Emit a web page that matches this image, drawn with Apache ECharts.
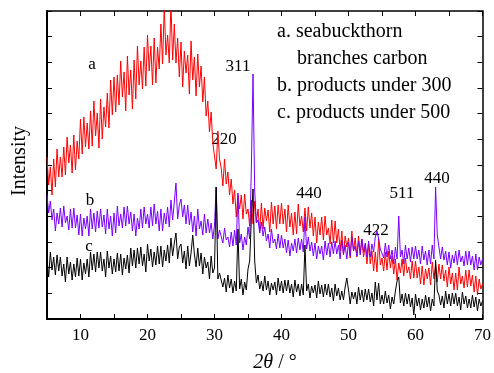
<!DOCTYPE html>
<html>
<head>
<meta charset="utf-8">
<script src="https://cdn.jsdelivr.net/npm/echarts@6/dist/echarts.min.js"></script>
<style>
  html, body { margin: 0; padding: 0; background: #fff; }
  #chart { width: 494px; height: 373px; }
</style>
</head>
<body>
<div id="chart"></div>
<script>
// XRD patterns, 2θ from 5° to 70° in 0.25° steps (4 values per degree, one group per degree)
const twoTheta = Array.from({ length: 261 }, (_, i) => 5 + i * 0.25)

// a. seabuckthorn branches carbon (red)
const seriesA = [
  162, 134, 152, 124,  160, 132, 170, 142,  162, 142, 172, 144,  182, 156, 174, 146,  // 5-8
  184, 149, 178, 160,  200, 165, 202, 172,  196, 170, 208, 173,  218, 183, 206, 171,  // 9-12
  220, 180, 212, 192,  226, 191, 239, 204,  242, 207, 244, 214,  258, 222, 247, 208,  // 13-16
  263, 224, 249, 210,  259, 220, 273, 234,  258, 230, 272, 233,  284, 248, 273, 234,  // 17-20
  281, 236, 272, 250,  295, 255, 312, 264,  284, 256, 315, 259,  295, 256, 281, 242,  // 21-24
  277, 232, 268, 246,  264, 225, 278, 239,  262, 223, 265, 232,  253, 217, 242, 203,  // 25-28
  218, 187, 207, 176,  178, 150, 188, 160,  151, 133, 160, 135,  147, 124, 140, 115,  // 29-32
  129, 102, 124, 110,  124, 100, 125, 105,  110,  93, 119,  95,  118,  96, 110,  88,  // 33-36
  116,  90, 111,  98,  109,  87, 117,  95,  113,  90, 114,  95,  116,  95, 110,  87,  // 37-40
  114,  92, 106,  84,  107,  85, 115,  93,  103,  87, 111,  88,  112,  91, 106,  83,  // 41-44
  102,  76,  97,  84,  102,  79, 103,  84,   91,  75,  99,  76,   98,  76,  90,  68,  // 45-48
   88,  64,  83,  72,   81,  61,  88,  68,   81,  62,  83,  66,   80,  62,  74,  55,  // 49-52
   75,  55,  68,  48,   67,  47,  80,  54,   61,  48,  67,  49,   68,  51,  63,  45,  // 53-56
   60,  39,  56,  46,   60,  43,  61,  46,   52,  40,  58,  41,   58,  41,  52,  35,  // 57-60
   53,  34,  50,  40,   51,  34,  57,  40,   54,  37,  55,  40,   54,  38,  49,  32,  // 61-64
   52,  35,  46,  29,   46,  29,  52,  35,   43,  31,  49,  32,   49,  33,  44,  27,  // 65-68
   43,  24,  40,  30,   35                                                           // 69-70
]

// b. products under 300 (purple)
const seriesB = [
  124, 106, 118,  99,  110,  88, 106,  95,  111,  92, 113,  96,  103,  89, 110,  91,  // 5-8
  111,  91, 104,  84,  105,  83, 101,  90,  103,  83, 110,  90,  106,  87, 108,  91,  // 9-12
  110,  92, 104,  85,  110,  90, 103,  83,  106,  86, 113,  93,  105,  91, 112,  93,  // 13-16
  113,  95, 107,  88,  105,  83, 101,  90,  110,  91, 112,  95,  105,  91, 112,  93,  // 17-20
  115,  95, 108,  88,  110,  88, 106,  95,  112,  92, 119,  99,  117, 136, 100, 114,  // 21-24
  120, 102, 114,  95,  114,  94, 107,  87,  103,  83, 110,  90,   98,  84, 105,  86,  // 25-28
  100,  86,  96,  80,   94, 132,  80,  89,   90,  76,  91,  79,   82,  72,  87,  73,  // 29-32
   89,  74, 126,  76,   85,  69,  82,  74,   92,  80, 150, 245,  128,  96,  99,  86,  // 33-36
   97,  83,  92,  78,   85,  71,  90,  76,   80,  70,  85,  71,   84,  71,  80,  66,  // 37-40
   79,  63,  76,  68,   80,  66,  81,  69,   80,  67, 102,  70,   82,  68,  77,  63,  // 41-44
   76,  60,  73,  65,   73,  59,  78,  64,   76,  62,  77,  65,   78,  65,  74,  60,  // 45-48
   79,  65,  74,  60,   77,  63,  82,  68,   73,  63,  78,  64,   80,  67,  76,  62,  // 49-52
   78,  62,  75,  67,   82,  88,  80,  70,   71,  61,  76,  62,   74,  60,  69,  55,  // 53-56
   72,  60, 103,  62,   69,  55,  74,  60,   71,  57,  72,  60,   73,  60,  69,  55,  // 57-60
   73,  59,  68,  54,   69,  55,  74,  60,  132,  84,  72,  60,   72,  59,  68,  54,  // 61-64
   67,  51,  64,  56,   68,  54,  69,  57,   63,  53,  68,  54,   68,  54,  63,  49,  // 65-68
   65,  49,  62,  54,   60                                                           // 69-70
]

// c. products under 500 (black)
const seriesC = [
   60,  42,  67,  49,   62,  44,  64,  48,   62,  43,  55,  37,   62,  45,  57,  39,  // 5-8
   55,  42,  61,  43,   60,  39,  56,  45,   60,  42,  67,  49,   65,  47,  67,  51,  // 9-12
   67,  48,  60,  42,   68,  51,  63,  45,   60,  47,  66,  48,   65,  44,  61,  50,  // 13-16
   64,  46,  71,  53,   69,  51,  71,  55,   72,  53,  65,  47,   75,  58,  70,  52,  // 17-20
   67,  54,  73,  55,   73,  52,  69,  58,   74,  56,  81,  63,   76,  86,  60,  72,  // 21-24
   75,  56,  68,  50,   73,  53,  66,  84,   65,  52,  71,  53,   66,  45,  62,  51,  // 25-28
   57,  40,  63,  46,   51, 132,  40,  46,   46,  32,  41,  27,   44,  31,  40,  26,  // 29-32
   38,  28,  90,  30,   40,  24,  37,  29,   50,  58, 100, 130,   58,  36,  44,  30,  // 33-36
   38,  28,  43,  29,   38,  24,  36,  29,   37,  24,  41,  28,   38,  26,  39,  28,  // 37-40
   39,  26,  35,  22,   39,  27,  35,  23,   35,  24,  74,  28,   35,  21,  33,  26,  // 41-44
   34,  21,  38,  25,   34,  22,  35,  24,   35,  22,  31,  18,   35,  23,  31,  19,  // 45-48
   28,  19,  32,  41,   29,  15,  27,  20,   27,  15,  32,  19,   29,  17,  30,  19,  // 49-52
   30,  17,  26,  13,   37,  19,  36,  15,   24,  15,  28,  16,   24,  10,  22,  15,  // 53-56
   28,  38,  42,  16,   25,  13,  26,  15,   25,  12,  21,   4,   25,  13,  21,   9,  // 57-60
   20,  11,  24,  12,   22,   8,  20,  13,   59,  28,  24,  14,   23,  11,  28,  15,  // 61-64
   25,  13,  26,  15,   26,  13,  22,   9,   27,  15,  23,  11,   20,  11,  24,  12,  // 65-68
   22,   8,  20,  13,   18                                                           // 69-70
]

const xTicks = [10, 20, 30, 40, 50, 60, 70]
const peakLabels = [
  { text: '311', x: 238, y: 67 },
  { text: '220', x: 224, y: 140 },
  { text: '440', x: 309, y: 194 },
  { text: '422', x: 376, y: 231 },
  { text: '511', x: 402, y: 194 },
  { text: '440', x: 437, y: 179 }
]
const legendLines = ['a. seabuckthorn', '    branches carbon', 'b. products under 300', 'c. products under 500']

const FONT = '"Liberation Serif", "DejaVu Serif", serif'
const chart = echarts.init(document.getElementById('chart'), null, { renderer: 'canvas' })

const pairs = vals => vals.map((v, i) => [twoTheta[i], v])
const line = (name, vals, color) => ({
  name, type: 'line', data: pairs(vals), symbol: 'none', clip: true,
  lineStyle: { color, width: 1 }, silent: true
})

const yMax = 308
const frameY = (pos, w) => ({
  type: 'value', position: pos, min: 0, max: yMax, interval: yMax / 12,
  axisLine: { show: true, onZero: false, lineStyle: { color: '#000', width: w } },
  axisTick: { show: true, inside: true, length: 5, lineStyle: { color: '#000', width: 1 } },
  axisLabel: { show: false }, splitLine: { show: false }
})
const frameX = (pos, w, labels) => ({
  type: 'value', position: pos, min: 5, max: 70, interval: 5,
  axisLine: { show: true, onZero: false, lineStyle: { color: '#000', width: w } },
  axisTick: { show: true, inside: true, length: 5, lineStyle: { color: '#000', width: 1 } },
  axisLabel: labels ? {
    show: true, color: '#000', fontFamily: FONT, fontSize: 17, margin: 8,
    formatter: v => xTicks.includes(v) ? String(v) : ''
  } : { show: false },
  splitLine: { show: false }
})

const txt = (text, x, y, size) => ({
  type: 'text', x, y,
  style: { text, font: `${size}px ${FONT}`, fill: '#000', align: 'center', verticalAlign: 'middle' }
})

chart.setOption({
  animation: false,
  backgroundColor: '#fff',
  grid: { left: 47, right: 6, top: 11, bottom: 54 },
  xAxis: [frameX('bottom', 2, true), frameX('top', 1.5, false)],
  yAxis: [frameY('left', 2), frameY('right', 1.5)],
  series: [
    line('a', seriesA, '#ff0000'),
    line('b', seriesB, '#7a00ff'),
    line('c', seriesC, '#000000')
  ],
  graphic: [
    ...legendLines.map((t, i) => ({
      type: 'text', left: 277, top: 22 + i * 26.8,
      style: { text: t, font: `20px ${FONT}`, fill: '#000' }
    })),
    ...peakLabels.map(p => txt(p.text, p.x, p.y, 17)),
    txt('a', 92, 65, 17),
    txt('b', 90, 201, 17),
    txt('c', 89, 247, 17),
    { ...txt('Intensity', 20, 161, 20), rotation: Math.PI / 2 },
    {
      type: 'text', x: 275, y: 363,
      style: {
        text: '{i|2θ} / °', align: 'center', verticalAlign: 'middle',
        rich: { i: { font: `italic 20px ${FONT}`, fill: '#000' } },
        font: `20px ${FONT}`, fill: '#000'
      }
    }
  ]
})
</script>
</body>
</html>
